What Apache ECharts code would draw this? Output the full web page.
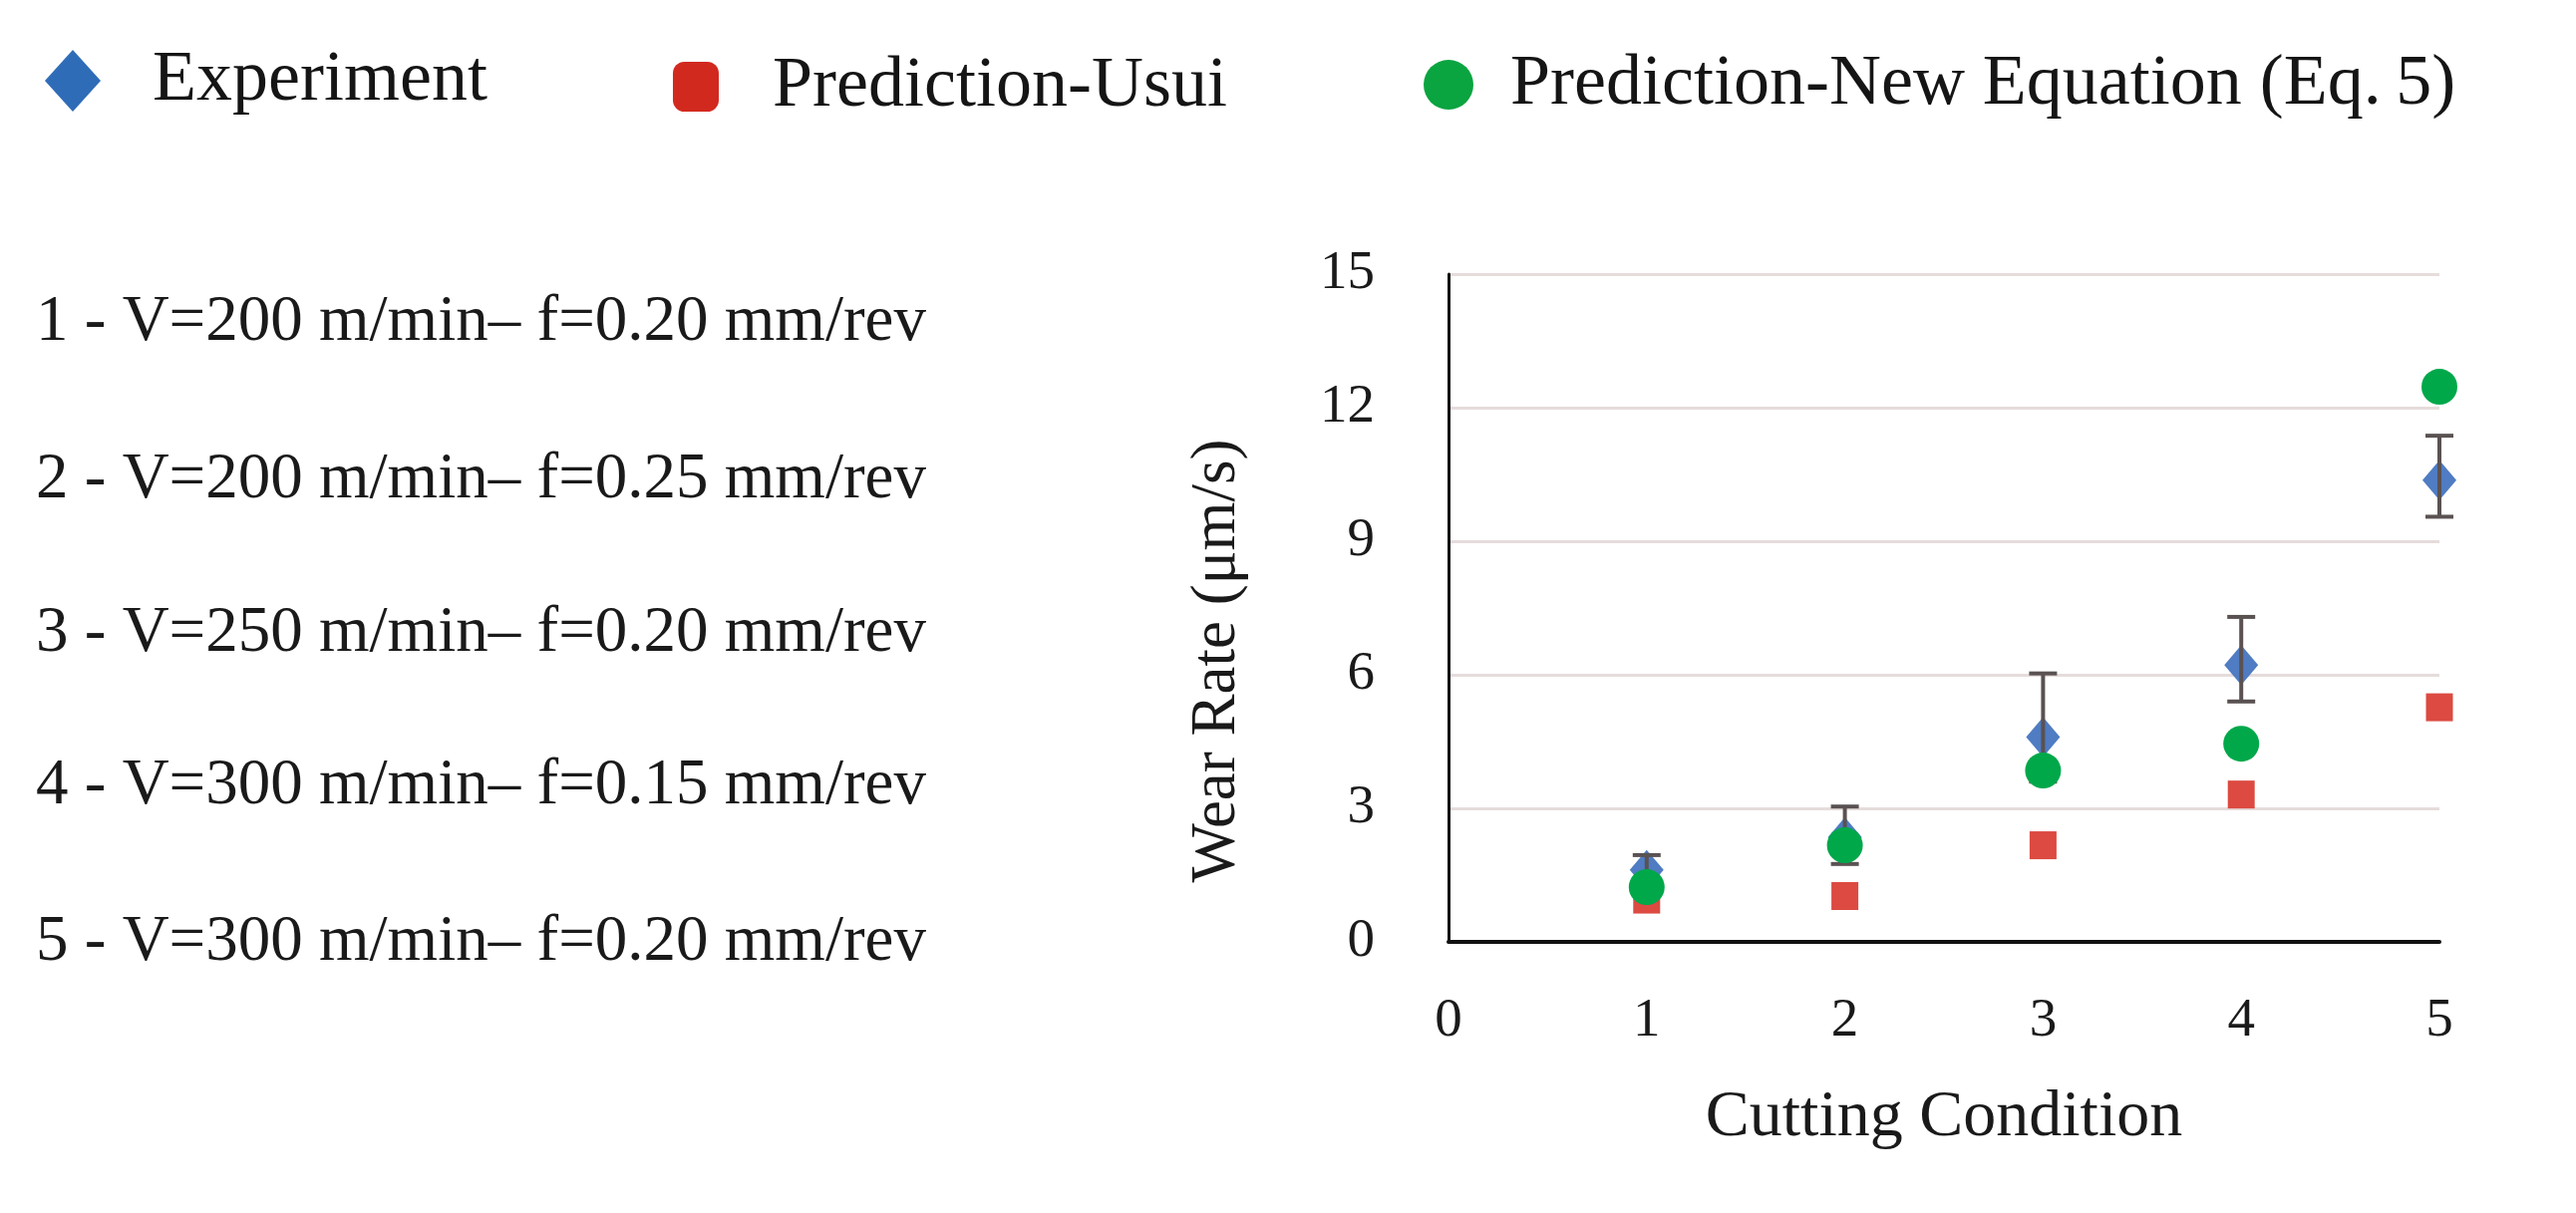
<!DOCTYPE html>
<html>
<head>
<meta charset="utf-8">
<script src="https://cdn.jsdelivr.net/npm/echarts@6/dist/echarts.min.js"></script>
<style>
html,body{margin:0;padding:0;background:#fff;}
#chart{width:2584px;height:1217px;}
</style>
</head>
<body>
<div id="chart"></div>
<script>
// ---- data ----
var conditions = [1, 2, 3, 4, 5];
var experiment = [1.62, 2.35, 4.6, 6.22, 10.37];
var expErrLow  = [1.33, 1.75, 3.6, 5.4, 9.55];
var expErrHigh = [1.95, 3.04, 6.03, 7.3, 11.37];
var predUsui   = [0.95, 1.03, 2.17, 3.31, 5.27];
var predNewEq  = [1.23, 2.17, 3.85, 4.45, 12.47];
var conditionLabels = [
  '1 - V=200 m/min\u2013 f=0.20 mm/rev',
  '2 - V=200 m/min\u2013 f=0.25 mm/rev',
  '3 - V=250 m/min\u2013 f=0.20 mm/rev',
  '4 - V=300 m/min\u2013 f=0.15 mm/rev',
  '5 - V=300 m/min\u2013 f=0.20 mm/rev'
];
var seriesNames = ['Experiment', 'Prediction-Usui', 'Prediction-New Equation (Eq.\u20095)'];
var xTicks = {min: 0, max: 5, interval: 1};
var yTicks = {min: 0, max: 15, interval: 3};

var FONT = 'Liberation Serif';
function pairs(vals) { return conditions.map(function (c, i) { return [c, vals[i]]; }); }
var errData = conditions.map(function (c, i) { return [c, expErrLow[i], expErrHigh[i]]; });

var chart = echarts.init(document.getElementById('chart'));
var rowY = [328, 486, 640, 793, 950];

function legendOf(name, left, w, h, pad, icon, color) {
  return {
    data: [{name: name, icon: icon, itemStyle: {color: color}}],
    left: left, top: 76 - h / 2, padding: 0,
    itemWidth: w, itemHeight: h,
    textStyle: {fontFamily: FONT, fontSize: 72, color: '#151515', padding: [0, 0, 0, pad]}
  };
}

chart.setOption({
  backgroundColor: '#ffffff',
  animation: false,
  legend: [
    legendOf(seriesNames[0], 45, 56, 62, 47, 'diamond', '#2f6cb8'),
    legendOf(seriesNames[1], 675, 46, 50, 49, 'roundRect', '#d2291f'),
    legendOf(seriesNames[2], 1428, 50, 54, 32, 'circle', '#0aa440')
  ],
  graphic: conditionLabels.map(function (t, i) {
    return {
      type: 'text', left: 36, top: rowY[i] - 37,
      style: {text: t, font: '65px "' + FONT + '"', fill: '#1a1a1a'}
    };
  }),
  grid: {left: 1453, right: 137, top: 275, bottom: 272, containLabel: false},
  xAxis: {
    type: 'value', min: xTicks.min, max: xTicks.max, interval: xTicks.interval,
    name: 'Cutting Condition', nameLocation: 'middle', nameGap: 144,
    nameTextStyle: {fontFamily: FONT, fontSize: 66, color: '#1a1a1a'},
    axisLine: {show: true, onZero: false, lineStyle: {color: '#111', width: 4}},
    axisTick: {show: false},
    splitLine: {show: false},
    axisLabel: {fontFamily: FONT, fontSize: 55, color: '#1a1a1a', margin: 52}
  },
  yAxis: {
    type: 'value', min: yTicks.min, max: yTicks.max, interval: yTicks.interval,
    name: 'Wear Rate (\u03bcm/s)', nameLocation: 'middle', nameGap: 200, nameRotate: 90,
    nameTextStyle: {fontFamily: FONT, fontSize: 63, color: '#1a1a1a', padding: [0, 106, 0, 0]},
    axisLine: {show: true, lineStyle: {color: '#111', width: 3}},
    axisTick: {show: false},
    splitLine: {show: true, lineStyle: {color: '#e6dcdc', width: 3}},
    axisLabel: {fontFamily: FONT, fontSize: 55, color: '#1a1a1a', margin: 74}
  },
  series: [
    {
      name: seriesNames[0], type: 'scatter', data: pairs(experiment),
      symbol: 'diamond', symbolSize: [34, 40], z: 2,
      itemStyle: {color: '#4f7cc2', opacity: 1}
    },
    {
      name: 'err', type: 'custom', data: errData, z: 3,
      renderItem: function (params, api) {
        var x = api.value(0);
        var lo = api.coord([x, api.value(1)]);
        var hi = api.coord([x, api.value(2)]);
        var cw = 14;
        var st = {stroke: '#5a5252', lineWidth: 4};
        return {
          type: 'group',
          children: [
            {type: 'line', shape: {x1: lo[0], y1: lo[1], x2: hi[0], y2: hi[1]}, style: st},
            {type: 'line', shape: {x1: hi[0] - cw, y1: hi[1], x2: hi[0] + cw, y2: hi[1]}, style: st},
            {type: 'line', shape: {x1: lo[0] - cw, y1: lo[1], x2: lo[0] + cw, y2: lo[1]}, style: st}
          ]
        };
      }
    },
    {
      name: seriesNames[1], type: 'scatter', data: pairs(predUsui),
      symbol: 'rect', symbolSize: [27, 28], z: 4,
      itemStyle: {color: '#dc4a41', opacity: 1}
    },
    {
      name: seriesNames[2], type: 'scatter', data: pairs(predNewEq),
      symbol: 'circle', symbolSize: 36, z: 5,
      itemStyle: {color: '#00a84a', opacity: 1}
    }
  ]
});
</script>
</body>
</html>
